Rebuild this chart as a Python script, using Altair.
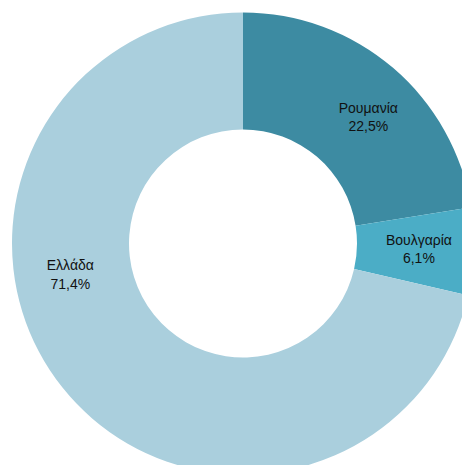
import altair as alt
import pandas as pd

countries = ["Ρουμανία", "Βουλγαρία", "Ελλάδα"]
shares = [22.5, 6.1, 71.4]
share_labels = ["22,5%", "6,1%", "71,4%"]
colors = ["#3D8BA2", "#4BADC6", "#AACFDD"]

df = pd.DataFrame({
    "country": countries,
    "share": shares,
    "idx": list(range(len(countries))),
    "label": [f"{c}\n{s}" for c, s in zip(countries, share_labels)],
})

cx, cy = 235, 235.5

base = alt.Chart(df).encode(
    theta=alt.Theta("share:Q", stack=True),
    order=alt.Order("idx:Q"),
    x=alt.value(cx),
    y=alt.value(cy),
)

arcs = base.mark_arc(outerRadius=231, innerRadius=114, stroke=None).encode(
    color=alt.Color("country:N", scale=alt.Scale(domain=countries, range=colors), legend=None)
)

offsets = {"Ρουμανία": (11, -1), "Βουλγαρία": (0, -9), "Ελλάδα": (-35, -87)}
texts = []
for c in countries:
    dx, dy = offsets[c]
    t = base.mark_text(
        radius=176, lineBreak="\n", font="Liberation Sans", fontSize=14,
        color="#111111", align="center", baseline="middle", lineHeight=18.5,
        dx=dx, dy=dy,
    ).encode(
        text=alt.condition(alt.datum.country == c, alt.Text("label:N"), alt.value(""))
    )
    texts.append(t)

chart = alt.layer(arcs, *texts).properties(
    width=454, height=457, padding=0, autosize="none"
).configure_view(stroke=None)

chart.save("out.html", embed_options={"renderer": "svg", "actions": False})
